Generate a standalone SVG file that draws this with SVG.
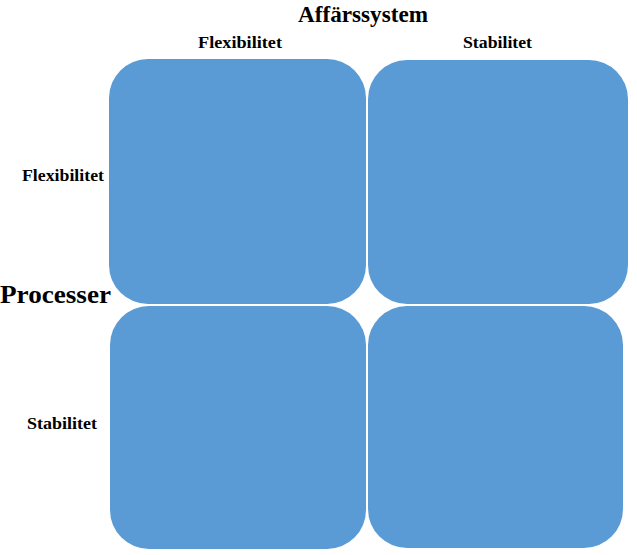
<svg xmlns="http://www.w3.org/2000/svg" width="637" height="555" viewBox="0 0 637 555">
<style>
.cell{fill:#5B9BD5;}
.t{font-family:"Liberation Serif","Times New Roman",serif;fill:#000;}
.b{font-weight:bold;font-size:17px;}
</style>
<rect x="0" y="0" width="637" height="555" fill="#fff"/>
<g id="title"><text class="t" x="298" y="22" font-size="23" font-weight="bold" textLength="130" lengthAdjust="spacingAndGlyphs">Affärssystem</text></g>
<g id="col-flex"><text class="t b" x="198" y="48" textLength="84" lengthAdjust="spacingAndGlyphs">Flexibilitet</text></g>
<g id="col-stab"><text class="t b" x="463" y="48" textLength="69" lengthAdjust="spacingAndGlyphs">Stabilitet</text></g>
<g id="row-flex"><text class="t b" x="22" y="181" textLength="82" lengthAdjust="spacingAndGlyphs">Flexibilitet</text></g>
<g id="row-label"><text class="t" x="0" y="303" font-size="26" font-weight="bold" textLength="111" lengthAdjust="spacingAndGlyphs">Processer</text></g>
<g id="row-stab"><text class="t b" x="27" y="429" textLength="70" lengthAdjust="spacingAndGlyphs">Stabilitet</text></g>
<g id="cell-tl"><rect class="cell" x="109" y="59" width="257" height="245" rx="39" ry="39"/></g>
<g id="cell-tr"><rect class="cell" x="368" y="60" width="260" height="244" rx="39" ry="39"/></g>
<g id="cell-bl"><rect class="cell" x="110" y="306" width="256" height="243" rx="39" ry="39"/></g>
<g id="cell-br"><rect class="cell" x="368" y="306" width="255" height="242" rx="39" ry="39"/></g>
<g id="connectors"></g>
</svg>
